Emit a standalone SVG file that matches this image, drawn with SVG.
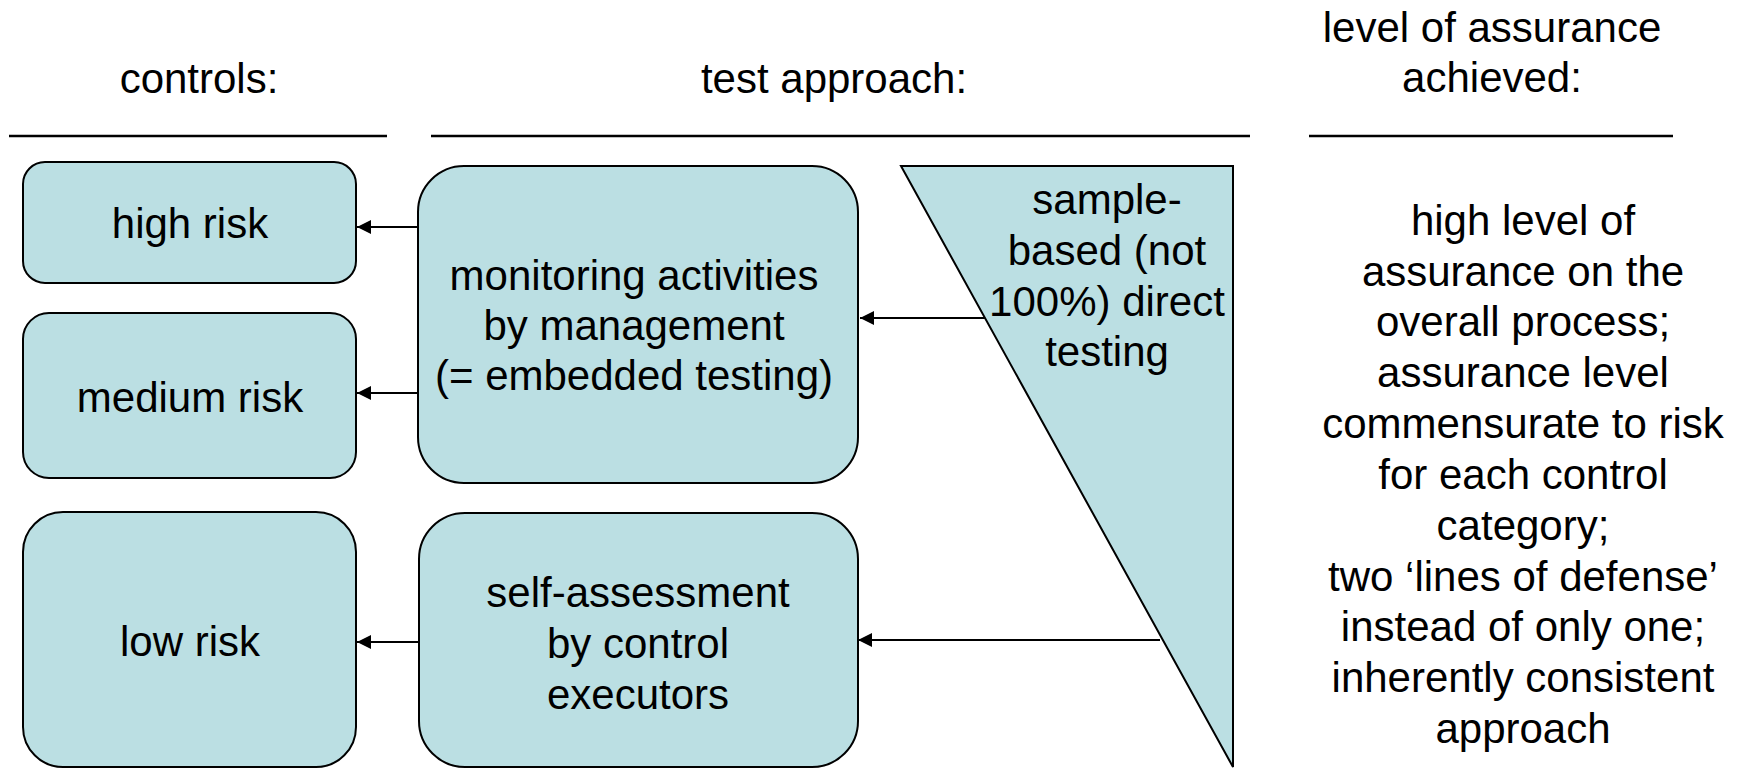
<svg xmlns="http://www.w3.org/2000/svg" width="1748" height="768" viewBox="0 0 1748 768">
<defs>
<style>
text{font-family:"Liberation Sans",Arial,sans-serif;font-size:42px;fill:#000;text-anchor:middle}
.box{fill:#BBDFE3;stroke:#000;stroke-width:2}
.rule{stroke:#000;stroke-width:2.5}
.conn{stroke:#000;stroke-width:1.8;fill:none;marker-end:url(#ah)}
</style>
<marker id="ah" markerUnits="userSpaceOnUse" markerWidth="16" markerHeight="14" refX="14" refY="7" orient="auto">
<path d="M0,0 L14,7 L0,14 Z" fill="#000"/>
</marker>
</defs>
<rect width="1748" height="768" fill="#fff"/>
<g id="headers">
<text x="199" y="93">controls:</text>
<text x="834" y="93">test approach:</text>
<text x="1492" y="42">level of assurance</text>
<text x="1492" y="92">achieved:</text>
<line class="rule" x1="9" y1="136" x2="387" y2="136"/>
<line class="rule" x1="431" y1="136" x2="1250" y2="136"/>
<line class="rule" x1="1309" y1="136" x2="1673" y2="136"/>
</g>
<g id="connectors">
<line class="conn" x1="418" y1="227" x2="357" y2="227"/>
<line class="conn" x1="418" y1="393" x2="357" y2="393"/>
<line class="conn" x1="419" y1="642" x2="357" y2="642"/>
<line class="conn" x1="985" y1="318" x2="860" y2="318"/>
<line class="conn" x1="1160" y1="640" x2="858" y2="640"/>
</g>
<g id="high-risk">
<rect class="box" x="23" y="162" width="333" height="121" rx="22"/>
<text x="190" y="238">high risk</text>
</g>
<g id="medium-risk">
<rect class="box" x="23" y="313" width="333" height="165" rx="26"/>
<text x="190" y="412">medium risk</text>
</g>
<g id="low-risk">
<rect class="box" x="23" y="512" width="333" height="255" rx="40"/>
<text x="190" y="656">low risk</text>
</g>
<g id="monitoring">
<rect class="box" x="418" y="166" width="440" height="317" rx="46"/>
<text x="634" y="290">monitoring activities</text>
<text x="634" y="340">by management</text>
<text x="634" y="390">(= embedded testing)</text>
</g>
<g id="self-assessment">
<rect class="box" x="419" y="513" width="439" height="254" rx="46"/>
<text x="638" y="607">self-assessment</text>
<text x="638" y="658">by control</text>
<text x="638" y="709">executors</text>
</g>
<g id="sample-testing">
<polygon class="box" points="901,166 1233,166 1233,767"/>
<text x="1107" y="214">sample-</text>
<text x="1107" y="265">based (not</text>
<text x="1107" y="316">100%) direct</text>
<text x="1107" y="366">testing</text>
</g>
<g id="assurance-text">
<text x="1523" y="235">high level of</text>
<text x="1523" y="286">assurance on the</text>
<text x="1523" y="336">overall process;</text>
<text x="1523" y="387">assurance level</text>
<text x="1523" y="438">commensurate to risk</text>
<text x="1523" y="489">for each control</text>
<text x="1523" y="540">category;</text>
<text x="1523" y="591">two ‘lines of defense’</text>
<text x="1523" y="641">instead of only one;</text>
<text x="1523" y="692">inherently consistent</text>
<text x="1523" y="743">approach</text>
</g>
</svg>
